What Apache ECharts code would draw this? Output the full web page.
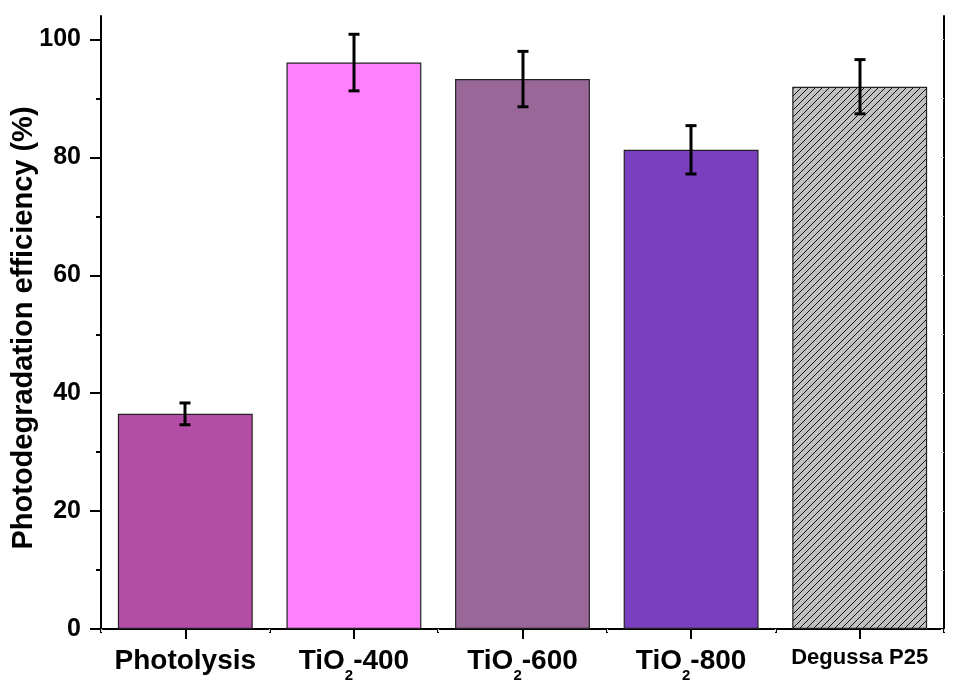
<!DOCTYPE html>
<html>
<head>
<meta charset="utf-8">
<script src="https://cdn.jsdelivr.net/npm/echarts@6/dist/echarts.min.js"></script>
<style>html,body{margin:0;padding:0;background:#fff;}#c{width:957px;height:686px;}</style>
</head>
<body>
<div id="c"></div>
<script>
var categories = ['Photolysis', 'TiO2-400', 'TiO2-600', 'TiO2-800', 'Degussa P25'];
var values = [36.5, 96.1, 93.3, 81.3, 92.0];
var errors = [1.85, 4.8, 4.7, 4.1, 4.6];
var barColors = ['#B34DA6', '#FF80FF', '#996899', '#793FBE', '#C0C0C0'];
var majorTicks = [0, 20, 40, 60, 80, 100];
var minorTicks = [10, 30, 50, 70, 90];
var yTitle = 'Photodegradation efficiency (%)';

var FONT = '"Liberation Sans", Arial, sans-serif';

function hatch() {
  var s = 7;
  var c = document.createElement('canvas');
  c.width = s; c.height = s;
  var g = c.getContext('2d');
  g.fillStyle = '#C0C0C0';
  g.fillRect(0, 0, s, s);
  g.strokeStyle = '#111';
  g.lineWidth = 1;
  g.beginPath();
  g.moveTo(-1, s + 1); g.lineTo(s + 1, -1);
  g.moveTo(-1, 1); g.lineTo(1, -1);
  g.moveTo(s - 1, s + 1); g.lineTo(s + 1, s - 1);
  g.stroke();
  return c;
}

var barData = values.map(function (v, i) {
  var col = barColors[i];
  if (i === 4) col = { image: hatch(), repeat: 'repeat' };
  return { value: v, itemStyle: { color: col } };
});

var errData = values.map(function (v, i) { return [i, v - errors[i], v + errors[i]]; });

var chart = echarts.init(document.getElementById('c'), null, { renderer: 'canvas' });
chart.setOption({
  animation: false,
  backgroundColor: '#fff',
  grid: { left: 101, right: 13, top: 16, bottom: 57, containLabel: false },
  xAxis: [
    {
      type: 'category', data: categories, position: 'bottom',
      axisLine: { show: true, lineStyle: { color: '#000', width: 2 } },
      axisTick: { show: true, alignWithLabel: true, length: 10, lineStyle: { color: '#000', width: 2 } },
      axisLabel: {
        margin: 18, color: '#000', fontFamily: FONT, fontWeight: 'bold',
        formatter: function (v) {
          if (v.indexOf('TiO2') === 0) return '{a|TiO}{s|2}{a|' + v.slice(4) + '}';
          if (v === 'Degussa P25') return '{d|' + v + '}';
          return '{a|' + v + '}';
        },
        rich: {
          a: { fontSize: 28, fontWeight: 'bold', fontFamily: FONT, color: '#000', lineHeight: 30, verticalAlign: 'top' },
          s: { fontSize: 15, fontWeight: 'bold', fontFamily: FONT, color: '#000', lineHeight: 15, padding: [21, 0, 0, 0], verticalAlign: 'top' },
          d: { fontSize: 22, fontWeight: 'bold', fontFamily: FONT, color: '#000', lineHeight: 30, verticalAlign: 'top' }
        }
      },
      splitLine: { show: false }
    },
    {
      type: 'category', data: categories, position: 'bottom',
      axisLine: { show: false },
      axisTick: { show: true, alignWithLabel: false, length: 4, lineStyle: { color: '#000', width: 2 } },
      axisLabel: { show: false },
      splitLine: { show: false }
    },
    {
      type: 'category', data: categories, position: 'top',
      axisLine: { show: true, lineStyle: { color: '#000', width: 2 } },
      axisTick: { show: true, inside: true, length: 3, lineStyle: { color: '#ddd', width: 1 } },
      axisLabel: { show: false },
      splitLine: { show: false }
    }
  ],
  yAxis: [
    {
      type: 'value', min: 0, max: 104, interval: 20, position: 'left',
      axisLine: { show: true, lineStyle: { color: '#000', width: 2 } },
      axisTick: { show: true, length: 11, customValues: majorTicks, lineStyle: { color: '#000', width: 2 } },
      axisLabel: { show: true, customValues: majorTicks, margin: 20, color: '#000', fontSize: 25, fontWeight: 'bold', fontFamily: FONT },
      splitLine: { show: false }
    },
    {
      type: 'value', min: 0, max: 104, interval: 20, position: 'left',
      axisLine: { show: false },
      axisTick: { show: true, length: 5, customValues: minorTicks, lineStyle: { color: '#000', width: 2 } },
      axisLabel: { show: false },
      splitLine: { show: false }
    },
    {
      type: 'value', min: 0, max: 104, interval: 20, position: 'right',
      axisLine: { show: true, lineStyle: { color: '#000', width: 2 } },
      axisTick: { show: true, inside: true, length: 3, customValues: majorTicks.concat(minorTicks), lineStyle: { color: '#ccc', width: 1 } },
      axisLabel: { show: false },
      splitLine: { show: false }
    }
  ],
  graphic: [{
    type: 'text',
    x: 24, y: 328, rotation: Math.PI / 2,
    style: { text: yTitle, fontSize: 29, fontWeight: 'bold', fontFamily: FONT, fill: '#000', align: 'center', verticalAlign: 'middle' }
  }],
  series: [
    {
      type: 'bar', xAxisIndex: 0, yAxisIndex: 0, data: barData, barWidth: '80%',
      itemStyle: { borderColor: '#222', borderWidth: 1.2 }
    },
    {
      type: 'custom', xAxisIndex: 0, yAxisIndex: 0, data: errData, z: 10,
      renderItem: function (params, api) {
        var lo = api.coord([api.value(0), api.value(1)]);
        var hi = api.coord([api.value(0), api.value(2)]);
        var x = Math.round(lo[0]);
        var w = 5.5;
        var st = { stroke: '#000', lineWidth: 3 };
        return {
          type: 'group', children: [
            { type: 'line', shape: { x1: x, y1: lo[1], x2: x, y2: hi[1] }, style: st },
            { type: 'line', shape: { x1: x - w, y1: lo[1], x2: x + w, y2: lo[1] }, style: st },
            { type: 'line', shape: { x1: x - w, y1: hi[1], x2: x + w, y2: hi[1] }, style: st }
          ]
        };
      }
    }
  ]
});
</script>
</body>
</html>
